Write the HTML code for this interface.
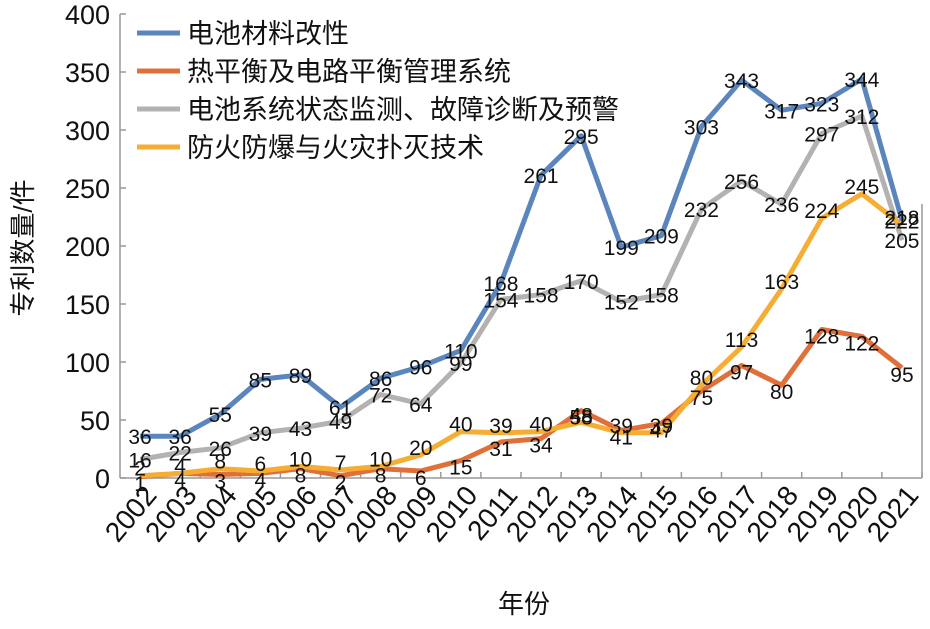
<!DOCTYPE html>
<html><head><meta charset="utf-8"><style>
body{margin:0;background:#fff}
svg text{font-family:"Liberation Sans","Noto Sans CJK SC",sans-serif;fill:#111}
</style></head><body>
<svg id="chart" width="930" height="624" xmlns="http://www.w3.org/2000/svg">
<g id="axes"></g><g id="series"></g><g id="labels"></g><g id="legend"></g>
<text transform="translate(32,248) rotate(-90)" text-anchor="middle" font-size="26">专利数量/件</text>
<text x="524" y="613" text-anchor="middle" font-size="26">年份</text>
</svg>
<script>
const years=["2002","2003","2004","2005","2006","2007","2008","2009","2010","2011","2012","2013","2014","2015","2016","2017","2018","2019","2020","2021"];
const yTicks=[0,50,100,150,200,250,300,350,400];
const seriesNames=["电池材料改性","热平衡及电路平衡管理系统","电池系统状态监测、故障诊断及预警","防火防爆与火灾扑灭技术"];
const seriesColors=["#5b85bd","#e0703a","#b4b1b1","#f5ae33"];
const materials=[36,36,55,85,89,61,86,96,110,168,261,295,199,209,303,343,317,323,344,222];
const thermal=[1,4,3,4,8,2,8,6,15,31,34,58,41,47,75,97,80,128,122,95];
const monitoring=[16,22,26,39,43,49,72,64,99,154,158,170,152,158,232,256,236,297,312,205];
const fire=[2,4,8,6,10,7,10,20,40,39,40,48,39,39,80,113,163,224,245,218];
const allSeries=[materials,thermal,monitoring,fire];
const drawOrder=[2,1,3,0];
const X0=120,X1=922,Y0=478,Y1=14;
const band=(X1-X0)/years.length;
const xs=i=>X0+band*(i+0.5);
const ys=v=>Y0-(v/400)*(Y0-Y1);
const NS="http://www.w3.org/2000/svg";
function mk(tag,attrs,parent){const e=document.createElementNS(NS,tag);for(const k in attrs)e.setAttribute(k,attrs[k]);parent.appendChild(e);return e;}
const axes=document.getElementById('axes');
let e=mk('line',{x1:X0,y1:Y1,x2:X0,y2:Y0,stroke:'#999','stroke-width':1.5},axes);


e=mk('line',{x1:X0,y1:Y0,x2:X1,y2:Y0,stroke:'#999','stroke-width':1.5},axes);


e=mk('line',{x1:X1,y1:Y1+190,x2:X1,y2:Y0,stroke:'#999','stroke-width':1.5},axes);


yTicks.forEach(t=>{
  const y=ys(t);
  e=mk('line',{x1:X0,y1:y,x2:X0+6,y2:y,stroke:'#999','stroke-width':1.5},axes);
  
  
  e=mk('text',{x:X0-10,y:y+10,'text-anchor':'end','font-size':27},axes);
  e.textContent=t;
  
  
});
years.forEach((yr,i)=>{
  const x=X0+band*(i+1);
  e=mk('line',{x1:x,y1:Y0,x2:x,y2:Y0-6,stroke:'#999','stroke-width':1.5},axes);
  
  
  e=mk('text',{transform:`translate(${xs(i)+18},${Y0+18}) rotate(-50)`,'text-anchor':'end','font-size':28},axes);
  e.textContent=yr;
  
  
});
const sg=document.getElementById('series'),lg=document.getElementById('labels');
drawOrder.forEach(s=>{
  const d=allSeries[s];
  const pts=d.map((v,i)=>xs(i).toFixed(1)+','+ys(v).toFixed(1)).join(' ');
  e=mk('polyline',{points:pts,fill:'none',stroke:seriesColors[s],'stroke-width':5,'stroke-linejoin':'round'},sg);
  
  
});
const labelDy=[8,14,8,0];
allSeries.forEach((d,s)=>{
  d.forEach((v,i)=>{
    e=mk('text',{x:xs(i),y:ys(v)+labelDy[s],'text-anchor':'middle','font-size':21},lg);
    e.textContent=v;
    
    
  });
});
const leg=document.getElementById('legend');
seriesNames.forEach((n,k)=>{
  const y=33+k*38;
  e=mk('line',{x1:137,y1:y,x2:180,y2:y,stroke:seriesColors[k],'stroke-width':5},leg);
  
  
  e=mk('text',{x:187,y:y+10,'font-size':27},leg);
  e.textContent=n;
  
  
});
</script>
</body></html>
